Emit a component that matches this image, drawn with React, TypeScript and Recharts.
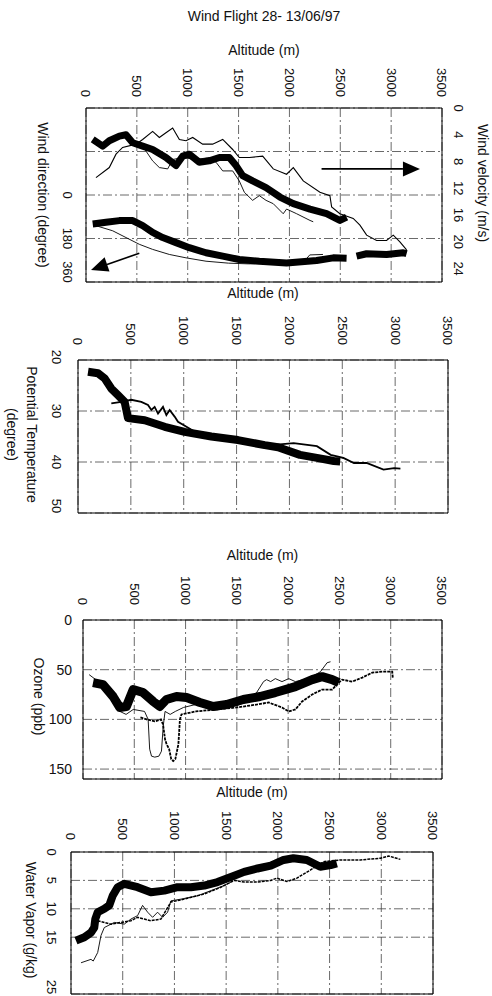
import React from "react";
import { LineChart, Line, XAxis, YAxis, CartesianGrid, ReferenceLine } from "recharts";

const FONT = "'Liberation Sans', Arial, sans-serif";
const INK = "#111";

// shared altitude axis (m)
const altTicks = [0, 500, 1000, 1500, 2000, 2500, 3000, 3500];

// ---- panel 1: wind ----
const dirTicks = [-360, -180, 0, 180, 360];
const velTicks = [0, 4, 8, 12, 16, 20, 24];

const velThickAlt = [66, 164, 229, 328, 393, 459, 557, 655, 786, 885, 950, 1016, 1114, 1212, 1311, 1409, 1475, 1540, 1638, 1770, 1907, 2038, 2202, 2365, 2496, 2562];
const velThickVal = [4.7, 5.7, 4.9, 4.2, 4.0, 5.2, 5.7, 6.2, 7.4, 8.6, 7.2, 6.9, 8.1, 7.9, 7.4, 7.4, 8.6, 10.1, 10.9, 11.9, 13.3, 14.3, 15.1, 15.8, 16.8, 16.3];

const velThinAAlt = [98, 229, 295, 360, 492, 557, 655, 721, 786, 852, 918, 983, 1049, 1147, 1245, 1344, 1442, 1507, 1606, 1737, 1776, 1841, 1972, 2038, 2136, 2300, 2398, 2415, 2496, 2627, 2693, 2759, 2857, 2955, 3021, 3086, 3152];
const velThinAVal = [10.4, 8.9, 6.9, 5.9, 5.4, 4.7, 3.5, 4.4, 3.7, 3.0, 4.7, 4.9, 4.4, 5.4, 5.4, 4.7, 6.2, 7.4, 7.4, 7.2, 7.9, 9.1, 9.9, 8.9, 10.9, 12.6, 13.1, 14.8, 15.8, 16.5, 17.5, 19.0, 19.8, 19.8, 19.0, 20.0, 21.2];

const velThinBAlt = [557, 655, 721, 803, 852, 950, 1081, 1212, 1278, 1344, 1442, 1507, 1557, 1638, 1704, 1770, 1841, 1939, 1972, 2071, 2202, 2234];
const velThinBVal = [5.7, 7.9, 8.9, 9.1, 7.7, 7.4, 7.7, 7.4, 8.1, 9.4, 9.4, 10.9, 12.6, 13.8, 13.1, 13.8, 14.3, 15.8, 15.1, 15.8, 16.8, 17.0];

const dirThickAlt = [66, 197, 328, 459, 557, 655, 754, 885, 1016, 1180, 1344, 1507, 1704, 1972, 2267, 2431, 2562, 2610, 2660, 2759, 2955, 3119, 3152];
const dirThickVal = [120, 113, 106, 106, 127, 155, 176, 197, 218, 239, 253, 267, 274, 281, 271, 260, 262, null, 253, 243, 246, 239, 243];

const dirThinAlt = [98, 262, 393, 524, 655, 819, 983, 1180, 1400, 1600, 1900, 2150, 2200, 2330];
const dirThinVal = [127, 148, 176, 204, 225, 246, 260, 274, 282, 285, 282, 272, 248, 246];

// ---- panel 2: potential temperature ----
const ptTicks = [20, 30, 40, 50];
const ptThickAlt = [95, 189, 252, 315, 378, 441, 457, 473, 631, 820, 1009, 1261, 1513, 1766, 1892, 2100, 2260, 2420, 2480];
const ptThickVal = [22.3, 22.6, 23.6, 25.6, 26.9, 28.2, 29.8, 31.4, 31.8, 33.1, 34.1, 35.0, 35.7, 36.7, 37.1, 38.6, 39.2, 39.8, 39.9];
const ptThinAlt = [315, 410, 504, 599, 662, 694, 725, 757, 804, 836, 867, 914, 946, 1150, 1470, 1790, 1880, 2040, 2260, 2390, 2510, 2610, 2730, 2890, 2990, 3050];
const ptThinVal = [28.5, 28.2, 27.8, 28.2, 28.8, 29.8, 29.2, 30.5, 29.2, 30.8, 29.8, 31.1, 32.1, 34.6, 35.7, 36.6, 36.6, 36.3, 36.9, 38.6, 39.2, 40.2, 40.2, 41.5, 41.2, 41.3];

// ---- panel 3: ozone ----
const ozTicks = [0, 50, 100, 150];
const ozThickAlt = [98, 195, 293, 358, 423, 489, 586, 684, 749, 814, 912, 1010, 1140, 1270, 1400, 1563, 1726, 1875, 2071, 2234, 2331, 2429, 2494];
const ozThickVal = [63, 65, 77, 88, 87, 70, 73, 82, 87, 80, 77, 78, 83, 87, 85, 80, 77, 73, 67, 60, 57, 60, 63];
const ozThinAAlt = [60, 150, 300, 360, 420, 490, 600, 635, 650, 668, 700, 740, 765, 782, 800, 850, 900, 980, 1100, 1300, 1500, 1650, 1760, 1790, 1830, 1875, 1940, 2006, 2070, 2152, 2234, 2315, 2380, 2413];
const ozThinAVal = [55, 62, 72, 92, 95, 90, 92, 100, 130, 137, 138, 137, 132, 107, 92, 95, 92, 88, 85, 88, 86, 80, 62, 60, 62, 59, 62, 59, 62, 60, 57, 52, 43, 42];
const ozThinBAlt = [560, 620, 700, 760, 780, 800, 815, 840, 860, 880, 900, 930, 945, 960, 1100, 1300, 1500, 1700, 1810, 1940, 2006, 2071, 2136, 2234, 2331, 2429, 2494, 2527, 2625, 2722, 2820, 2918, 3015, 3020];
const ozThinBVal = [98, 100, 102, 100, 105, 120, 125, 130, 140, 142, 140, 125, 100, 95, 92, 90, 88, 85, 83, 88, 92, 90, 82, 75, 70, 70, 63, 60, 62, 58, 53, 52, 52, 58];

// ---- panel 4: water vapour ----
const wvTicks = [0, 5, 10, 15, 20, 25];
const wvThickAlt = [48, 129, 193, 225, 235, 258, 322, 370, 403, 451, 515, 644, 773, 902, 1030, 1159, 1288, 1417, 1546, 1674, 1803, 1932, 2055, 2150, 2280, 2410, 2510, 2570];
const wvThickVal = [15.6, 15.0, 14.2, 13.3, 11.8, 10.6, 10.0, 9.4, 7.7, 6.2, 5.6, 6.2, 7.1, 6.8, 6.2, 6.2, 5.9, 5.3, 4.4, 3.5, 2.9, 2.4, 1.4, 1.1, 1.4, 2.6, 2.3, 2.0];
const wvThinAAlt = [97, 193, 215, 258, 290, 322, 419, 515, 580, 644, 692, 741, 789, 837, 886, 934, 966, 1063, 1224, 1352, 1481, 1546];
const wvThinAVal = [19.5, 18.9, 19.2, 17.7, 14.7, 13.3, 12.4, 12.7, 11.8, 11.2, 9.4, 10.6, 11.5, 10.6, 11.5, 10.6, 8.6, 8.3, 7.7, 6.8, 5.9, 5.3];
const wvThinBAlt = [258, 386, 483, 580, 644, 708, 773, 869, 966, 1095, 1288, 1449, 1578, 1674, 1803, 1932, 1990, 2087, 2184, 2313, 2442, 2603, 2797, 2991, 3071, 3184];
const wvThinBVal = [12.1, 12.7, 12.4, 12.1, 11.5, 11.8, 12.1, 11.8, 8.8, 8.3, 7.4, 6.2, 5.0, 5.3, 5.3, 5.0, 4.6, 5.2, 4.6, 3.2, 1.7, 1.4, 1.4, 1.1, 0.7, 1.3];

const rows = (alt: number[], val: (number | null)[]) => alt.map((a, i) => ({ alt: a, v: val[i] }));

const gridDash = "9 3 2 3";

const TopTick = (props: any) => {
  const { x, y, payload } = props;
  return (
    <text x={x} y={y} transform={`rotate(90, ${x}, ${y})`} textAnchor="end" dy="0.35em"
      fontSize={13} fontFamily={FONT} fill={INK}>{payload.value}</text>
  );
};

// rotated side tick; `shift` nudges edge labels inside the plot like the original
const SideTick = (props: any) => {
  const { x, payload, shift = {} } = props;
  if (payload.value < 0) return null;
  const y = props.y + (shift[payload.value] || 0);
  return (
    <text x={x} y={y} transform={`rotate(90, ${x}, ${y})`} textAnchor="middle" dy="0.35em"
      fontSize={13} fontFamily={FONT} fill={INK}>{payload.value}</text>
  );
};

const HLabel = (props: any) => {
  const { viewBox, value, top } = props;
  return (
    <text x={viewBox.x + viewBox.width / 2} y={viewBox.y + top} dy="0.35em" textAnchor="middle"
      fontSize={14} fontFamily={FONT} fill={INK}>{value}</text>
  );
};

const VLabel = (props: any) => {
  const { viewBox, lines, xs, dy = 0, size = 14 } = props;
  const cy = viewBox.y + viewBox.height / 2 + dy;
  return (
    <g>
      {lines.map((t: string, i: number) => {
        const x = viewBox.x + xs[i];
        return (
          <text key={i} x={x} y={cy} transform={`rotate(90, ${x}, ${cy})`} textAnchor="middle" dy="0.35em"
            fontSize={size} fontFamily={FONT} fill={INK}>{t}</text>
        );
      })}
    </g>
  );
};

const Arrow = (props: any) => {
  const { x1, y1, x2, y2 } = props;
  const a = Math.atan2(y2 - y1, x2 - x1);
  const len = 17;
  const hw = 7.5;
  const bx = x2 - len * Math.cos(a);
  const by = y2 - len * Math.sin(a);
  const px = -Math.sin(a) * hw;
  const py = Math.cos(a) * hw;
  return (
    <g>
      <line x1={x1} y1={y1} x2={bx} y2={by} stroke="#000" strokeWidth={1.6} />
      <polygon points={`${x2},${y2} ${bx + px},${by + py} ${bx - px},${by - py}`} fill="#000" />
    </g>
  );
};

const altAxis = (top: number, height: number, gap: number) => (
  <XAxis xAxisId={0} dataKey="alt" type="number" orientation="top" domain={[0, 3500]} ticks={altTicks}
    height={height} tickSize={0} tickMargin={gap} tick={<TopTick />} allowDataOverflow
    axisLine={{ stroke: "#000", strokeWidth: 1 }} tickLine={false}
    label={<HLabel value="Altitude (m)" top={top} />} />
);

const thick = (w: number) => ({ stroke: "#000", strokeWidth: w, strokeLinejoin: "round" as const, dot: false, isAnimationActive: false });
const thin = (w: number) => ({ stroke: "#000", strokeWidth: w, dot: false, isAnimationActive: false });

function WindPanel() {
  return (
    <LineChart width={492} height={300} margin={{ top: 0, right: 0, bottom: 18, left: 0 }}>
      <CartesianGrid yAxisId="dir" stroke="#444" strokeWidth={0.8} strokeDasharray={gridDash} />
      {altAxis(50, 108, 11)}
      <YAxis yAxisId="dir" type="number" domain={[-360, 360]} ticks={dirTicks} reversed width={86}
        tickSize={0} tickMargin={18} tick={<SideTick shift={{ 360: -10 }} />} tickLine={false} axisLine={{ stroke: "#000" }}
        label={<VLabel lines={["Wind direction (degree)"]} xs={[43]} />} />
      <YAxis yAxisId="vel" orientation="right" type="number" domain={[0, 26]} ticks={velTicks} reversed width={50}
        tickSize={0} tickMargin={17} tick={<SideTick />} tickLine={false} axisLine={{ stroke: "#000" }}
        label={<VLabel lines={["Wind velocity (m/s)"]} xs={[41]} dy={-12} />} />
      <ReferenceLine yAxisId="dir" y={360} stroke="#000" />
      <Line yAxisId="dir" data={rows(dirThinAlt, dirThinVal)} dataKey="v" {...thin(0.9)} />
      <Line yAxisId="dir" data={rows(dirThickAlt, dirThickVal)} dataKey="v" {...thick(7)} />
      <Line yAxisId="vel" data={rows(velThinAAlt, velThinAVal)} dataKey="v" {...thin(1.1)} />
      <Line yAxisId="vel" data={rows(velThinBAlt, velThinBVal)} dataKey="v" {...thin(0.9)} />
      <Line yAxisId="vel" data={rows(velThickAlt, velThickVal)} dataKey="v" {...thick(7)} />
      <ReferenceLine yAxisId="vel" segment={[{ x: 2316, y: 9.1 }, { x: 3283, y: 9.1 }]} shape={<Arrow />} />
      <ReferenceLine yAxisId="vel" segment={[{ x: 524, y: 21.7 }, { x: 49, y: 24.2 }]} shape={<Arrow />} />
    </LineChart>
  );
}

function PotTempPanel() {
  return (
    <LineChart width={492} height={236} margin={{ top: 0, right: 44, bottom: 7, left: 0 }}>
      <CartesianGrid stroke="#444" strokeWidth={0.8} strokeDasharray={gridDash} />
      {altAxis(9.5, 76, 15)}
      <YAxis type="number" domain={[20, 50]} ticks={ptTicks} reversed width={78}
        tickSize={0} tickMargin={21} tick={<SideTick shift={{ 20: -3, 50: -5 }} />} tickLine={false} axisLine={{ stroke: "#000" }}
        label={<VLabel lines={["Potential Temperature", "(degree)"]} xs={[32, 12]} dy={-2} />} />
      <ReferenceLine y={50} stroke="#000" />
      <ReferenceLine x={3500} stroke="#000" />
      <Line data={rows(ptThinAlt, ptThinVal)} dataKey="v" {...thin(1.8)} />
      <Line data={rows(ptThickAlt, ptThickVal)} dataKey="v" {...thick(8)} />
    </LineChart>
  );
}

function OzonePanel() {
  return (
    <LineChart width={492} height={255} margin={{ top: 0, right: 50, bottom: 6, left: 0 }}>
      <CartesianGrid stroke="#444" strokeWidth={0.8} strokeDasharray={gridDash} />
      {altAxis(25, 90, 15)}
      <YAxis type="number" domain={[0, 160]} ticks={ozTicks} reversed width={83}
        tickSize={0} tickMargin={11} tickLine={false} axisLine={{ stroke: "#000" }}
        tick={{ fontSize: 14, fontFamily: FONT, fill: INK }}
        label={<VLabel lines={["Ozone (ppb)"]} xs={[39]} dy={-3} />} />
      <ReferenceLine y={160} stroke="#000" />
      <ReferenceLine x={3500} stroke="#000" />
      <Line data={rows(ozThinAAlt, ozThinAVal)} dataKey="v" {...thin(0.9)} />
      <Line data={rows(ozThinBAlt, ozThinBVal)} dataKey="v" {...thin(1.8)} strokeDasharray="3 1" />
      <Line data={rows(ozThickAlt, ozThickVal)} dataKey="v" {...thick(9)} />
    </LineChart>
  );
}

function VaporPanel() {
  return (
    <LineChart width={492} height={211} margin={{ top: 0, right: 59, bottom: 2, left: 0 }}>
      <CartesianGrid stroke="#444" strokeWidth={0.8} strokeDasharray={gridDash} />
      {altAxis(7, 67, 12)}
      <YAxis type="number" domain={[0, 25]} ticks={wvTicks} reversed width={71}
        tickSize={0} tickMargin={19} tick={<SideTick />} tickLine={false} axisLine={{ stroke: "#000" }}
        label={<VLabel lines={["Water Vapor (g/kg)"]} xs={[31]} dy={-3} />} />
      <ReferenceLine y={25} stroke="#000" />
      <ReferenceLine x={3500} stroke="#000" />
      <Line data={rows(wvThinAAlt, wvThinAVal)} dataKey="v" {...thin(0.9)} />
      <Line data={rows(wvThinBAlt, wvThinBVal)} dataKey="v" {...thin(1.5)} strokeDasharray="3 1" />
      <Line data={rows(wvThickAlt, wvThickVal)} dataKey="v" {...thick(8)} />
    </LineChart>
  );
}

export default function App() {
  const at = (top: number): React.CSSProperties => ({ position: "absolute", left: 0, top });
  return (
    <div style={{ position: "absolute", left: 0, top: 0, width: 492, height: 996, background: "#fff", overflow: "hidden" }}>
      <div style={{ position: "absolute", left: 114, top: 8, width: 300, textAlign: "center", fontFamily: FONT, fontSize: 14, color: INK }}>
        Wind Flight 28- 13/06/97
      </div>
      <div style={at(0)}><WindPanel /></div>
      <div style={at(284)}><PotTempPanel /></div>
      <div style={at(530)}><OzonePanel /></div>
      <div style={at(785)}><VaporPanel /></div>
    </div>
  );
}
